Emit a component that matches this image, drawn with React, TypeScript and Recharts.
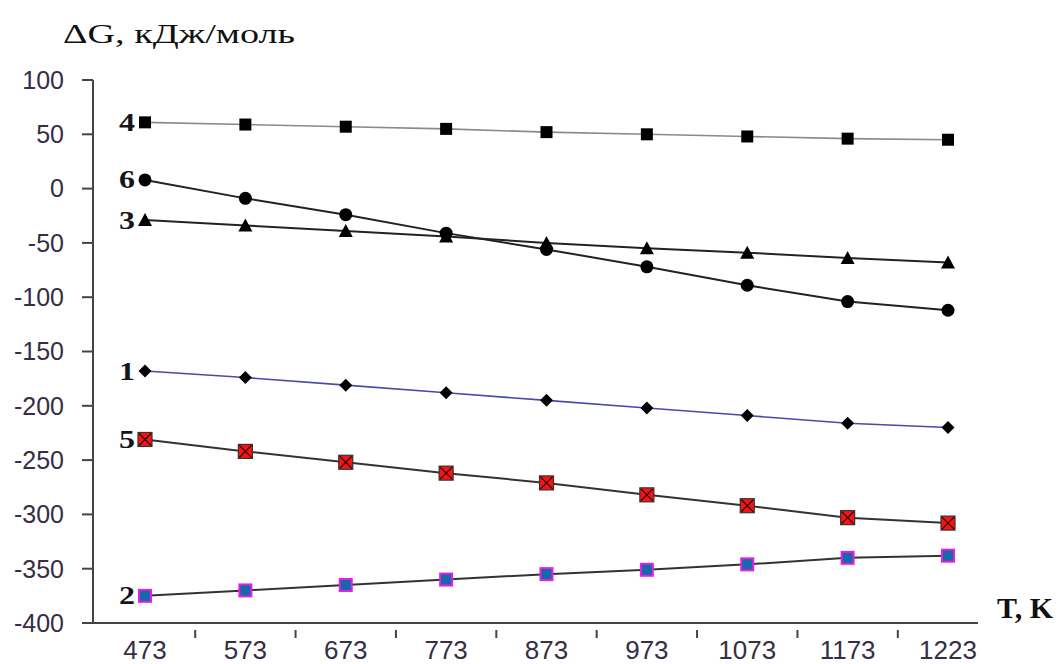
// temperature dependence of gibbs energy for six reactions, drawn as plain lines with excel-style markers
import { LineChart, Line, XAxis, YAxis } from "recharts";

// x categories: temperature, K
const temps = ["473", "573", "673", "773", "873", "973", "1073", "1173", "1223"];

// dG values, kJ/mol for each numbered curve
const curve1 = [-168, -174, -181, -188, -195, -202, -209, -216, -220];
const curve2 = [-375, -370, -365, -360, -355, -351, -346, -340, -338];
const curve3 = [-29, -34, -39, -44, -50, -55, -59, -64, -68];
const curve4 = [61, 59, 57, 55, 52, 50, 48, 46, 45];
const curve5 = [-231, -242, -252, -262, -271, -282, -292, -303, -308];
const curve6 = [8, -9, -24, -41, -56, -72, -89, -104, -112];

const yTicks = [100, 50, 0, -50, -100, -150, -200, -250, -300, -350, -400];

const W = 1058;
const H = 664;
const M = { top: 80, right: 80, left: 13, bottom: 0 };
const Y_AXIS_W = 80;
const X_AXIS_H = 41;
// the source axis is cut short on the right, so the padding is uneven
const PAD_L = 52;
const PAD_R = 30;
const step = (W - M.left - M.right - Y_AXIS_W - PAD_L - PAD_R) / (temps.length - 1);

const data = temps.map((t, i) => ({
  t,
  c1: curve1[i],
  c2: curve2[i],
  c3: curve3[i],
  c4: curve4[i],
  c5: curve5[i],
  c6: curve6[i],
}));

const serif = "'Liberation Serif', 'Times New Roman', serif";
const sans = "'Liberation Sans', Arial, sans-serif";
const tickFont = { fontFamily: sans, fontSize: 25, fill: "#352e44" };

// curve number drawn once, left of the first point (the source text is a bit wide, hence textLength)
function numLabel(n: string, cx: number, cy: number) {
  return (
    <text
      x={cx - 26}
      y={cy}
      dy="0.34em"
      fontFamily={serif}
      fontSize={25}
      fontWeight={700}
      fill="#151520"
      textLength={16}
      lengthAdjust="spacingAndGlyphs"
    >
      {n}
    </text>
  );
}

function makeDot(n: string, shape: (cx: number, cy: number) => any) {
  return (p: any) => {
    const { cx, cy, index } = p;
    if (cx == null || cy == null) return <g key={index} />;
    return (
      <g key={`d-${n}-${index}`}>
        {shape(cx, cy)}
        {index === 0 ? numLabel(n, cx, cy) : null}
      </g>
    );
  };
}

const square = (cx: number, cy: number) => <rect x={cx - 6} y={cy - 6} width={12} height={12} fill="#000" />;
const circle = (cx: number, cy: number) => <circle cx={cx} cy={cy} r={6.5} fill="#000" />;
const triangle = (cx: number, cy: number) => (
  <polygon points={`${cx},${cy - 7} ${cx + 7},${cy + 6} ${cx - 7},${cy + 6}`} fill="#000" />
);
const diamond = (cx: number, cy: number) => (
  <polygon points={`${cx},${cy - 6.5} ${cx + 6.5},${cy} ${cx},${cy + 6.5} ${cx - 6.5},${cy}`} fill="#000" />
);
const redX = (cx: number, cy: number) => (
  <g>
    <rect x={cx - 7} y={cy - 7} width={14} height={14} fill="#ff1010" stroke="#333" strokeWidth={1.2} />
    <line x1={cx - 6} y1={cy - 6} x2={cx + 6} y2={cy + 6} stroke="#111" strokeWidth={1.2} />
    <line x1={cx + 6} y1={cy - 6} x2={cx - 6} y2={cy + 6} stroke="#111" strokeWidth={1.2} />
  </g>
);
const blueSq = (cx: number, cy: number) => (
  <rect x={cx - 6} y={cy - 6} width={12} height={12} fill="#1469a8" stroke="#e61ee6" strokeWidth={2} />
);

// category labels sit under the points, the small tick marks sit halfway between them
function XTick(p: any) {
  const { x, y, payload, index } = p;
  return (
    <g>
      <text x={x} y={y + 19} dy="0.35em" textAnchor="middle" {...tickFont} fontSize={26}>
        {payload.value}
      </text>
      {index < temps.length - 1 ? (
        <line x1={x + step / 2} y1={y - 1} x2={x + step / 2} y2={y + 7} stroke="#444" strokeWidth={2} />
      ) : null}
    </g>
  );
}

export default function App() {
  return (
    <div style={{ position: "absolute", left: 0, top: 0, width: W, height: H, background: "#fff" }}>
      <LineChart width={W} height={H} data={data} margin={M}>
        <XAxis
          dataKey="t"
          height={X_AXIS_H}
          padding={{ left: PAD_L, right: PAD_R }}
          tick={<XTick />}
          tickLine={false}
          axisLine={{ stroke: "#444", strokeWidth: 2 }}
          interval={0}
        />
        <YAxis
          width={Y_AXIS_W}
          domain={[-400, 100]}
          ticks={yTicks}
          tickSize={11}
          tickMargin={18}
          tick={tickFont}
          tickLine={{ stroke: "#444", strokeWidth: 2 }}
          axisLine={{ stroke: "#444", strokeWidth: 2 }}
          interval={0}
        />
        <Line dataKey="c4" stroke="#8a8a8a" strokeWidth={1.6} dot={makeDot("4", square)} isAnimationActive={false} />
        <Line dataKey="c6" stroke="#222" strokeWidth={2} dot={makeDot("6", circle)} isAnimationActive={false} />
        <Line dataKey="c3" stroke="#222" strokeWidth={2} dot={makeDot("3", triangle)} isAnimationActive={false} />
        <Line dataKey="c1" stroke="#4a4aa8" strokeWidth={1.6} dot={makeDot("1", diamond)} isAnimationActive={false} />
        <Line dataKey="c5" stroke="#333" strokeWidth={2} dot={makeDot("5", redX)} isAnimationActive={false} />
        <Line dataKey="c2" stroke="#333" strokeWidth={2} dot={makeDot("2", blueSq)} isAnimationActive={false} />
      </LineChart>
      <svg width={W} height={H} style={{ position: "absolute", left: 0, top: 0, pointerEvents: "none" }}>
        <text x={63} y={43} fontFamily={serif} fontSize={27} fill="#111" textLength={232} lengthAdjust="spacingAndGlyphs">
          ΔG, кДж/моль
        </text>
        <text x={997} y={618} fontFamily={serif} fontSize={30} fontWeight={700} fill="#111">
          T, K
        </text>
      </svg>
    </div>
  );
}
